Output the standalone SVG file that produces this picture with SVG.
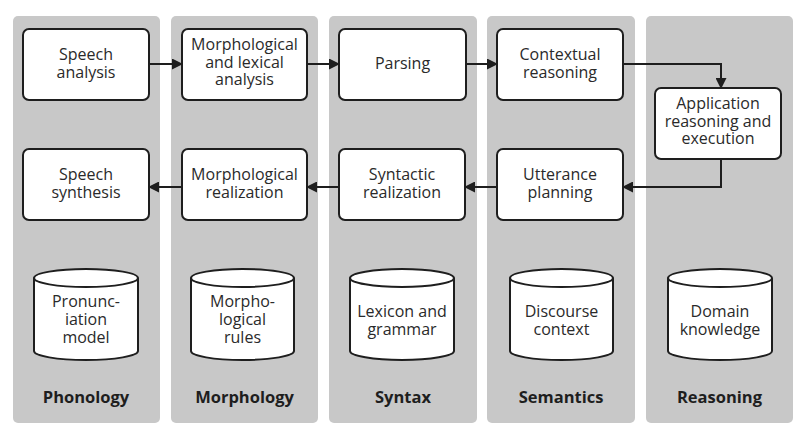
<svg xmlns="http://www.w3.org/2000/svg" width="809" height="440" viewBox="0 0 809 440">
<style>
.panel{fill:#c8c8c8}
.box{fill:#fff;stroke:#1e1e1e;stroke-width:2}
.cyl{fill:#fff;stroke:#1e1e1e;stroke-width:2}
.t{font-family:"Open Sans","Noto Sans","DejaVu Sans",sans-serif;font-size:16px;fill:#2a2a2a;text-anchor:middle}
.lbl{font-family:"Open Sans","Noto Sans","DejaVu Sans",sans-serif;font-size:16.5px;font-weight:bold;fill:#1e1e1e;text-anchor:middle}
.c{fill:none;stroke:#1e1e1e;stroke-width:2}
</style>
<defs>
<marker id="ah" markerWidth="11" markerHeight="11" refX="10" refY="5.5" orient="auto" markerUnits="userSpaceOnUse">
<path d="M0,0 L11,5.5 L0,11 Z" fill="#1e1e1e"/>
</marker>
</defs>
<rect width="809" height="440" fill="#fff"/>
<g id="panels">
<rect class="panel" x="13" y="16" width="147" height="407" rx="5"/>
<rect class="panel" x="171" y="16" width="147" height="407" rx="5"/>
<rect class="panel" x="329" y="16" width="148" height="407" rx="5"/>
<rect class="panel" x="487" y="16" width="148" height="407" rx="5"/>
<rect class="panel" x="646" y="16" width="147" height="407" rx="5"/>
</g>
<g id="speech-analysis"><rect class="box" x="23" y="29" width="126" height="71" rx="6"/><text class="t" x="86" y="60">Speech</text><text class="t" x="86" y="77.5">analysis</text></g>
<g id="morph-analysis"><rect class="box" x="182" y="29" width="125" height="71" rx="6"/><text class="t" x="244.5" y="50">Morphological</text><text class="t" x="244.5" y="67.5">and lexical</text><text class="t" x="244.5" y="85">analysis</text></g>
<g id="parsing"><rect class="box" x="339" y="29" width="127" height="71" rx="6"/><text class="t" x="402.5" y="69">Parsing</text></g>
<g id="contextual"><rect class="box" x="497" y="29" width="126" height="71" rx="6"/><text class="t" x="560" y="60">Contextual</text><text class="t" x="560" y="77.5">reasoning</text></g>
<g id="application"><rect class="box" x="655" y="88" width="126" height="71" rx="6"/><text class="t" x="718" y="109">Application</text><text class="t" x="718" y="126.5">reasoning and</text><text class="t" x="718" y="144">execution</text></g>
<g id="speech-synthesis"><rect class="box" x="23" y="149" width="126" height="71" rx="6"/><text class="t" x="86" y="180">Speech</text><text class="t" x="86" y="197.5">synthesis</text></g>
<g id="morph-realization"><rect class="box" x="182" y="149" width="125" height="71" rx="6"/><text class="t" x="244.5" y="180">Morphological</text><text class="t" x="244.5" y="197.5">realization</text></g>
<g id="syntactic-realization"><rect class="box" x="339" y="149" width="126" height="71" rx="6"/><text class="t" x="402" y="180">Syntactic</text><text class="t" x="402" y="197.5">realization</text></g>
<g id="utterance-planning"><rect class="box" x="497" y="149" width="126" height="71" rx="6"/><text class="t" x="560" y="180">Utterance</text><text class="t" x="560" y="197.5">planning</text></g>
<g id="db-pronunciation"><path class="cyl" d="M34,278 L34,351 A52,9 0 0 0 138,351 L138,278 A52,9 0 0 0 34,278 A52,9 0 0 0 138,278"/><text class="t" x="86" y="307">Pronunc-</text><text class="t" x="86" y="325">iation</text><text class="t" x="86" y="343">model</text></g>
<g id="db-morph"><path class="cyl" d="M191,278 L191,351 A51.5,9 0 0 0 294,351 L294,278 A51.5,9 0 0 0 191,278 A51.5,9 0 0 0 294,278"/><text class="t" x="242.5" y="307">Morpho-</text><text class="t" x="242.5" y="325">logical</text><text class="t" x="242.5" y="343">rules</text></g>
<g id="db-lexicon"><path class="cyl" d="M350,278 L350,351 A52,9 0 0 0 454,351 L454,278 A52,9 0 0 0 350,278 A52,9 0 0 0 454,278"/><text class="t" x="402" y="317">Lexicon and</text><text class="t" x="402" y="335">grammar</text></g>
<g id="db-discourse"><path class="cyl" d="M510,278 L510,351 A51.5,9 0 0 0 613,351 L613,278 A51.5,9 0 0 0 510,278 A51.5,9 0 0 0 613,278"/><text class="t" x="561.5" y="317">Discourse</text><text class="t" x="561.5" y="335">context</text></g>
<g id="db-domain"><path class="cyl" d="M668,278 L668,351 A52,9 0 0 0 772,351 L772,278 A52,9 0 0 0 668,278 A52,9 0 0 0 772,278"/><text class="t" x="720" y="317">Domain</text><text class="t" x="720" y="335">knowledge</text></g>
<g id="labels">
<text class="lbl" x="86" y="403">Phonology</text>
<text class="lbl" x="244.5" y="403">Morphology</text>
<text class="lbl" x="403" y="403">Syntax</text>
<text class="lbl" x="561" y="403">Semantics</text>
<text class="lbl" x="719.5" y="403">Reasoning</text>
</g>
<g id="connectors">
<path class="c" d="M149,64 L182,64" marker-end="url(#ah)"/>
<path class="c" d="M307,64 L339,64" marker-end="url(#ah)"/>
<path class="c" d="M466,64 L497,64" marker-end="url(#ah)"/>
<path class="c" d="M623,64 L721,64 L721,88" marker-end="url(#ah)"/>
<path class="c" d="M721,159 L721,187 L623,187" marker-end="url(#ah)"/>
<path class="c" d="M497,187 L465,187" marker-end="url(#ah)"/>
<path class="c" d="M339,187 L307,187" marker-end="url(#ah)"/>
<path class="c" d="M182,187 L149,187" marker-end="url(#ah)"/>
</g>
</svg>
